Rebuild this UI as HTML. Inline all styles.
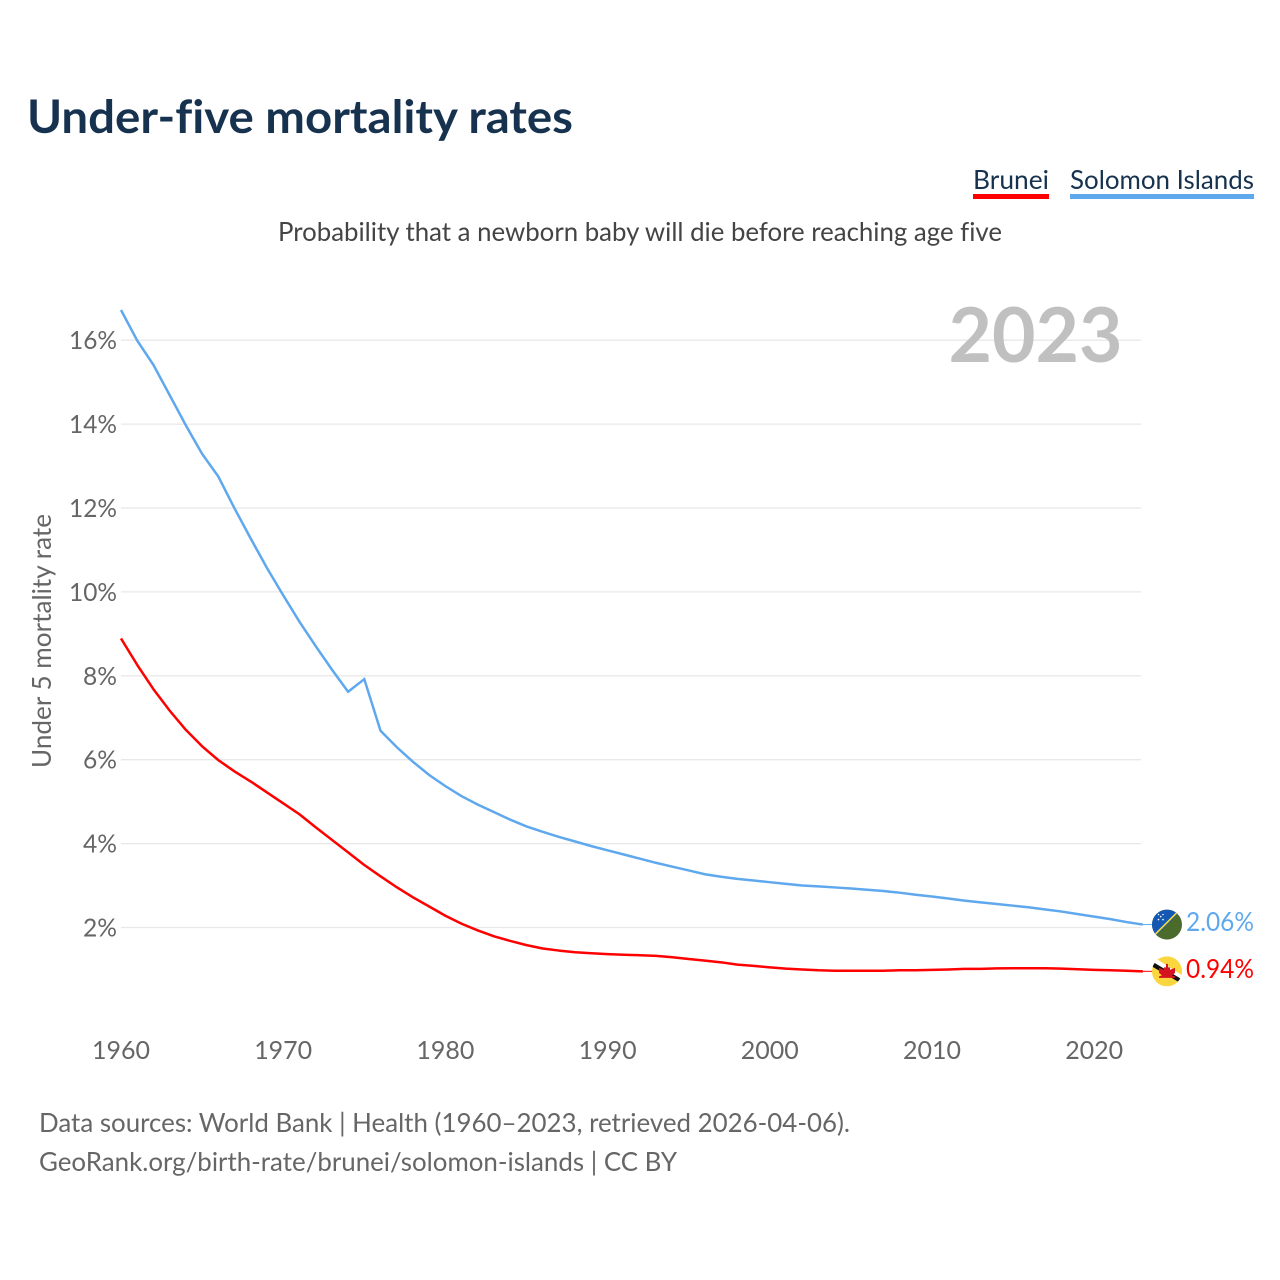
<!DOCTYPE html>
<html lang="en">
<head>
<meta charset="utf-8">
<title>Under-five mortality rates</title>
<style>
html,body{margin:0;padding:0;background:#fff;width:1280px;height:1280px;overflow:hidden}
svg{display:block}
text{font-family:"Lato","Carlito","Liberation Sans",sans-serif;font-variant-ligatures:none}
</style>
</head>
<body>
<svg id="chart" xmlns="http://www.w3.org/2000/svg" width="1280" height="1280" viewBox="0 0 1280 1280">
  <defs>
    <clipPath id="clip-sb"><circle cx="15" cy="15" r="15"/></clipPath>
    <clipPath id="clip-bn"><circle cx="15" cy="15" r="15"/></clipPath>
  </defs>
  <rect x="0" y="0" width="1280" height="1280" fill="#fff"/>
  <text x="27" y="133" font-size="46" font-weight="700" fill="#17324f" textLength="546" lengthAdjust="spacingAndGlyphs">Under-five mortality rates</text>

  <g>
    <text x="973" y="189" font-size="26" fill="#17324f" textLength="76" lengthAdjust="spacingAndGlyphs">Brunei</text>
    <rect x="973" y="194" width="76" height="5" fill="#ff0000"/>
  </g>
  <g>
    <text x="1070" y="189" font-size="26" fill="#17324f" textLength="184" lengthAdjust="spacingAndGlyphs">Solomon Islands</text>
    <rect x="1070" y="194" width="184" height="5" fill="#5fa8ee"/>
  </g>

  <text x="278" y="241" font-size="26" fill="#444" textLength="724" lengthAdjust="spacingAndGlyphs">Probability that a newborn baby will die before reaching age five</text>

  <g id="grid"></g>
  <text x="948.5" y="362" font-size="76" font-weight="700" fill="#c0c0c0" textLength="174" lengthAdjust="spacingAndGlyphs">2023</text>
  <g id="yticks"></g>
  <g id="xticks"></g>
  <text transform="translate(51,768) rotate(-90)" x="0" y="0" font-size="26" fill="#666" textLength="254" lengthAdjust="spacingAndGlyphs">Under 5 mortality rate</text>

  <path id="line-solomon" fill="none" stroke="#5fa8ee" stroke-width="2.5" stroke-linejoin="miter"/>
  <path id="line-brunei" fill="none" stroke="#ff0000" stroke-width="2.5" stroke-linejoin="round"/>
  <line id="conn-solomon" stroke="#5fa8ee" stroke-width="1"/>
  <line id="conn-brunei" stroke="#ff0000" stroke-width="1"/>

  <g id="flag-solomon">
    <g clip-path="url(#clip-sb)">
      <rect width="30" height="30" fill="#4a6b2c"/>
      <polygon points="0,0 30,0 0,30" fill="#1458b4"/>
      <line x1="-1" y1="29" x2="29" y2="-1" stroke="#f5d63d" stroke-width="1.6"/>
      <g fill="#fff">
        <circle cx="6.5" cy="10" r=".8"/><circle cx="11" cy="10" r=".8"/>
        <circle cx="8.7" cy="7" r=".8"/><circle cx="6.5" cy="5" r=".7"/><circle cx="11" cy="5" r=".7"/>
      </g>
    </g>
  </g>
  <g id="flag-brunei">
    <g clip-path="url(#clip-bn)">
      <rect width="30" height="30" fill="#fbd63f"/>
      <polygon points="-2,5 2,1 32,20 30,25" fill="#fff"/>
      <polygon points="-2,9 0,5 30,23 29,27" fill="#111"/>
      <path d="M14 7.5 h2 v3.5 h2 v2.5 l3 -1.2 l2 -.8 v5 l-3 2.5 l3 1 v1.5 h-16 v-1.5 l3 -1 l-3 -2.5 v-5 l2 .8 l3 1.2 v-2.5 h2 z" fill="#d4131e"/>
    </g>
  </g>

  <text id="value-solomon" x="1186" y="931" font-size="26" fill="#5fa8ee" textLength="68" lengthAdjust="spacingAndGlyphs"></text>
  <text id="value-brunei" x="1186" y="978" font-size="26" fill="#ff0000" textLength="68" lengthAdjust="spacingAndGlyphs"></text>

  <text x="39" y="1132" font-size="26" fill="#666" textLength="811" lengthAdjust="spacingAndGlyphs">Data sources: World Bank | Health (1960–2023, retrieved 2026-04-06).</text>
  <text x="39" y="1171" font-size="26" fill="#666" textLength="638" lengthAdjust="spacingAndGlyphs">GeoRank.org/birth-rate/brunei/solomon-islands | CC BY</text>
</svg>
<script>
const startYear = 1960;
const solomonValues = [16.72,15.99,15.41,14.69,13.97,13.29,12.75,11.99,11.27,10.57,9.92,9.29,8.71,8.15,7.62,7.92,6.69,6.3,5.95,5.635,5.37,5.13,4.93,4.75,4.57,4.41,4.28,4.16,4.05,3.94,3.84,3.74,3.64,3.54,3.45,3.36,3.27,3.21,3.16,3.12,3.08,3.04,3.0,2.98,2.955,2.93,2.90,2.87,2.83,2.78,2.74,2.69,2.64,2.60,2.56,2.52,2.48,2.43,2.38,2.32,2.26,2.2,2.13,2.07];
const bruneiValues = [8.89,8.26,7.68,7.17,6.71,6.32,5.99,5.72,5.48,5.22,4.96,4.70,4.39,4.09,3.79,3.49,3.22,2.96,2.72,2.5,2.28,2.09,1.93,1.79,1.68,1.58,1.50,1.45,1.41,1.385,1.365,1.35,1.34,1.325,1.29,1.25,1.21,1.17,1.115,1.085,1.05,1.02,1.0,0.98,0.97,0.97,0.97,0.97,0.98,0.98,0.99,1.0,1.015,1.015,1.025,1.03,1.03,1.03,1.02,1.005,0.99,0.98,0.97,0.955];
const yTickValues = [2,4,6,8,10,12,14,16];
const xTickYears = [1960,1970,1980,1990,2000,2010,2020];
const solomonPrinted = "2.06%";
const bruneiPrinted = "0.94%";

const SVGNS = "http://www.w3.org/2000/svg";
function xScale(year){ return 121 + (year - 1960) * 16.22; }
function yScale(v){ return 1011.4 - v * 41.95; }
function linePath(values){
  return values.map(function(v, i){
    return (i ? "L" : "M") + xScale(startYear + i).toFixed(2) + " " + yScale(v).toFixed(2);
  }).join(" ");
}

const grid = document.getElementById("grid");
const yticks = document.getElementById("yticks");
const xticks = document.getElementById("xticks");

yTickValues.forEach(function(v){
  const ln = document.createElementNS(SVGNS, "line");
  
  
  ln.setAttribute("x1", xScale(1960));
  ln.setAttribute("x2", 1141);
  ln.setAttribute("y1", yScale(v));
  ln.setAttribute("y2", yScale(v));
  ln.setAttribute("stroke", "#e8e8e8");
  ln.setAttribute("stroke-width", "1.3");
  grid.appendChild(ln);

  const t = document.createElementNS(SVGNS, "text");
  
  
  const label = v + "%";
  t.textContent = label;
  t.setAttribute("x", 117 - (label.length === 2 ? 34 : 48));
  t.setAttribute("y", yScale(v) + 9);
  t.setAttribute("font-size", "25");
  t.setAttribute("fill", "#666");
  t.setAttribute("textLength", label.length === 2 ? 34 : 48);
  t.setAttribute("lengthAdjust", "spacingAndGlyphs");
  yticks.appendChild(t);
});

xTickYears.forEach(function(y){
  const t = document.createElementNS(SVGNS, "text");
  
  
  t.textContent = String(y);
  t.setAttribute("x", xScale(y) - 29);
  t.setAttribute("y", 1059);
  t.setAttribute("font-size", "25");
  t.setAttribute("fill", "#666");
  t.setAttribute("textLength", 58);
  t.setAttribute("lengthAdjust", "spacingAndGlyphs");
  xticks.appendChild(t);
});

document.getElementById("line-solomon").setAttribute("d", linePath(solomonValues));
document.getElementById("line-brunei").setAttribute("d", linePath(bruneiValues));

const lastYear = startYear + solomonValues.length - 1;
const ySol = yScale(solomonValues[solomonValues.length - 1]);
const yBru = yScale(bruneiValues[bruneiValues.length - 1]);
const connSol = document.getElementById("conn-solomon");
connSol.setAttribute("x1", xScale(lastYear));
connSol.setAttribute("x2", 1154);
connSol.setAttribute("y1", ySol);
connSol.setAttribute("y2", ySol);
const connBru = document.getElementById("conn-brunei");
connBru.setAttribute("x1", xScale(lastYear));
connBru.setAttribute("x2", 1154);
connBru.setAttribute("y1", yBru);
connBru.setAttribute("y2", yBru);
document.getElementById("flag-solomon").setAttribute("transform", "translate(1152," + (ySol - 15) + ")");
document.getElementById("flag-brunei").setAttribute("transform", "translate(1152," + (yBru - 15) + ")");
const valSol = document.getElementById("value-solomon");
valSol.textContent = solomonPrinted;
valSol.setAttribute("y", ySol + 6.5);
const valBru = document.getElementById("value-brunei");
valBru.textContent = bruneiPrinted;
valBru.setAttribute("y", yBru + 6.5);
</script>
</body>
</html>
